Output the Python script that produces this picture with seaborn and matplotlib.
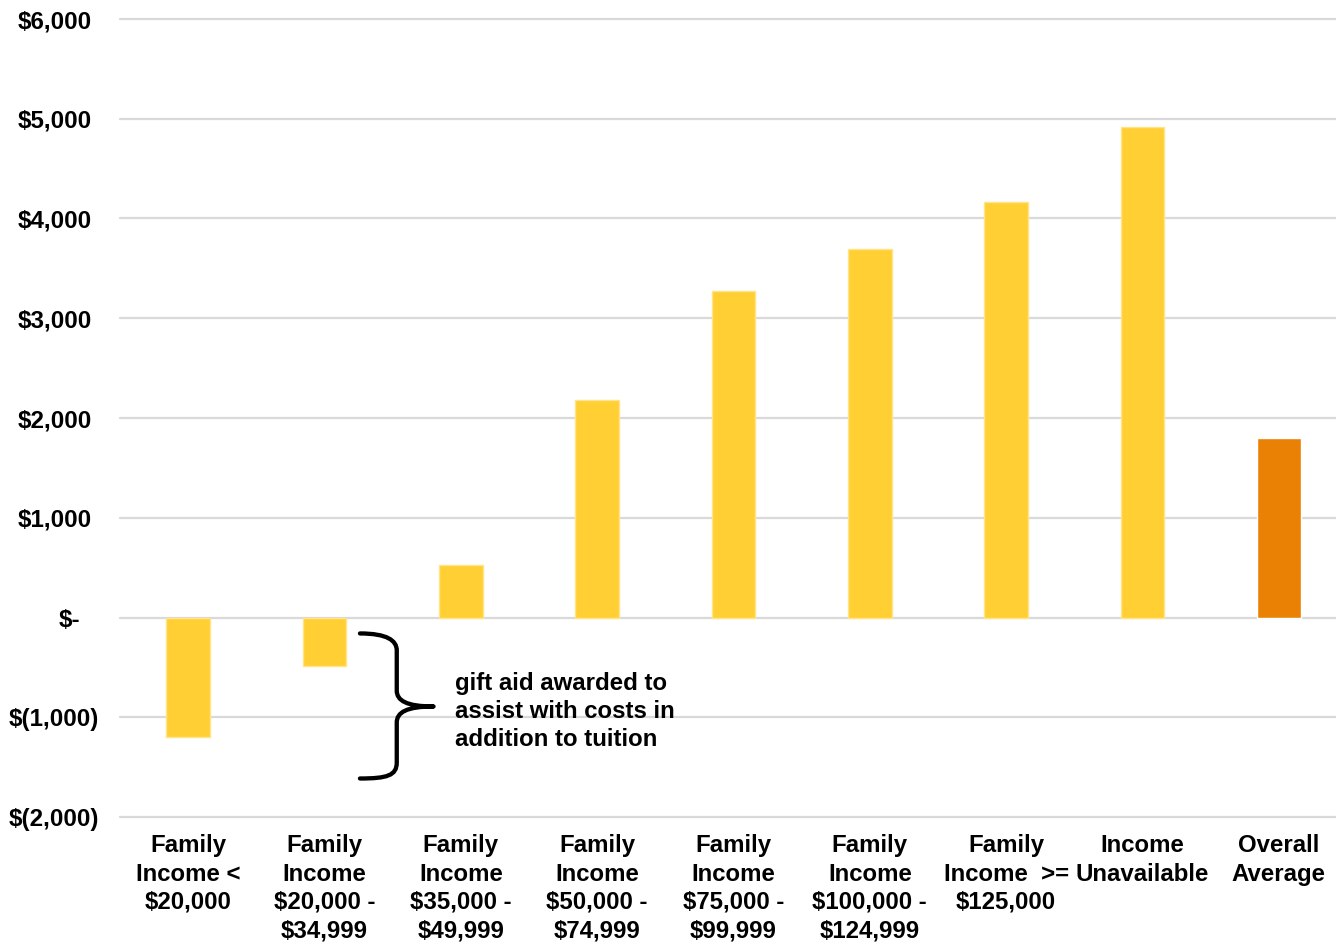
import matplotlib
matplotlib.use("Agg")
import matplotlib.pyplot as plt
import matplotlib.transforms as mtransforms
from matplotlib.path import Path
from matplotlib.patches import PathPatch
import seaborn as sns
import pandas as pd

# Net cost by family income bracket
categories = [
    "Family\nIncome <\n$20,000",
    "Family\nIncome\n$20,000 -\n$34,999",
    "Family\nIncome\n$35,000 -\n$49,999",
    "Family\nIncome\n$50,000 -\n$74,999",
    "Family\nIncome\n$75,000 -\n$99,999",
    "Family\nIncome\n$100,000 -\n$124,999",
    "Family\nIncome  >=\n$125,000",
    "Income\nUnavailable",
    "Overall\nAverage",
]
net_cost = [-1200, -490, 525, 2180, 3270, 3690, 4165, 4920, 1800]
bar_colors = ["#FFCF33"] * 8 + ["#EA8105"]

y_ticks = [-2000, -1000, 0, 1000, 2000, 3000, 4000, 5000, 6000]
y_tick_labels = ["$(2,000)", "$(1,000)", "$-", "$1,000", "$2,000",
                 "$3,000", "$4,000", "$5,000", "$6,000"]

note_text = "gift aid awarded to\nassist with costs in\naddition to tuition"

sns.set_theme(style="white")
plt.rcParams["font.family"] = ["Liberation Sans", "DejaVu Sans"]
plt.rcParams["font.weight"] = "bold"

W, H = 1336, 947
fig = plt.figure(figsize=(W / 100, H / 100), dpi=100)
ax = fig.add_axes([120 / W, 1 - 817 / H, (1347 - 120) / W, (817 - 19) / H])

df = pd.DataFrame({"category": categories, "value": net_cost})
sns.barplot(data=df, x="category", y="value", hue="category",
            palette=bar_colors, legend=False, width=0.32, saturation=1,
            ax=ax, zorder=3)
for patch, col in zip(ax.patches, bar_colors):
    if col == "#FFCF33":
        patch.set_edgecolor("#FFE48A")
        patch.set_linewidth(1.0)

ax.set_ylim(-2000, 6000)
ax.set_xlim(-0.5, len(categories) - 0.5)
ax.set_yticks(y_ticks)
ax.set_yticklabels(y_tick_labels, fontsize=17.4, fontweight="bold")
ax.set_xticks(range(len(categories)))
ax.set_xticklabels(categories, fontsize=17.3, fontweight="bold",
                   linespacing=1.29)
ax.tick_params(axis="both", length=0, colors="black")
ax.tick_params(axis="y", pad=15)
ax.tick_params(axis="x", pad=12.5)
ax.set_xlabel("")
ax.set_ylabel("")

# Accounting-style alignment: pad labels without parentheses
for lab in ax.get_yticklabels():
    txt = lab.get_text()
    if txt == "$-":
        shift = -19
    elif "(" in txt:
        shift = 0
    else:
        shift = -7
    if shift:
        off = mtransforms.ScaledTranslation(shift / 100, 0, fig.dpi_scale_trans)
        lab.set_transform(lab.get_transform() + off)

ax.yaxis.grid(True, color="#D9D9D9", linewidth=1.6, zorder=0)
ax.xaxis.grid(False)
for gl in ax.get_ygridlines():
    gl.set_clip_on(False)
for s in ax.spines.values():
    s.set_visible(False)

# Curly brace pointing to the annotation
brace_pts = [
    (1.26, -160),
    (1.46, -160), (1.53, -231), (1.53, -331),
    (1.53, -732),
    (1.53, -832), (1.60, -892), (1.80, -892),
    (1.60, -892), (1.53, -952), (1.53, -1053),
    (1.53, -1454),
    (1.53, -1584), (1.46, -1614), (1.26, -1614),
]
brace_codes = [Path.MOVETO,
               Path.CURVE4, Path.CURVE4, Path.CURVE4,
               Path.LINETO,
               Path.CURVE4, Path.CURVE4, Path.CURVE4,
               Path.CURVE4, Path.CURVE4, Path.CURVE4,
               Path.LINETO,
               Path.CURVE4, Path.CURVE4, Path.CURVE4]
ax.add_patch(PathPatch(Path(brace_pts, brace_codes), facecolor="none",
                       edgecolor="black", linewidth=3.1, zorder=4,
                       capstyle="round", joinstyle="round"))

ax.text(1.955, -942, note_text, ha="left", va="center", fontsize=17.3,
        fontweight="bold", linespacing=1.27, color="black", zorder=5)

fig.savefig("out.png", dpi=100, facecolor="white")
